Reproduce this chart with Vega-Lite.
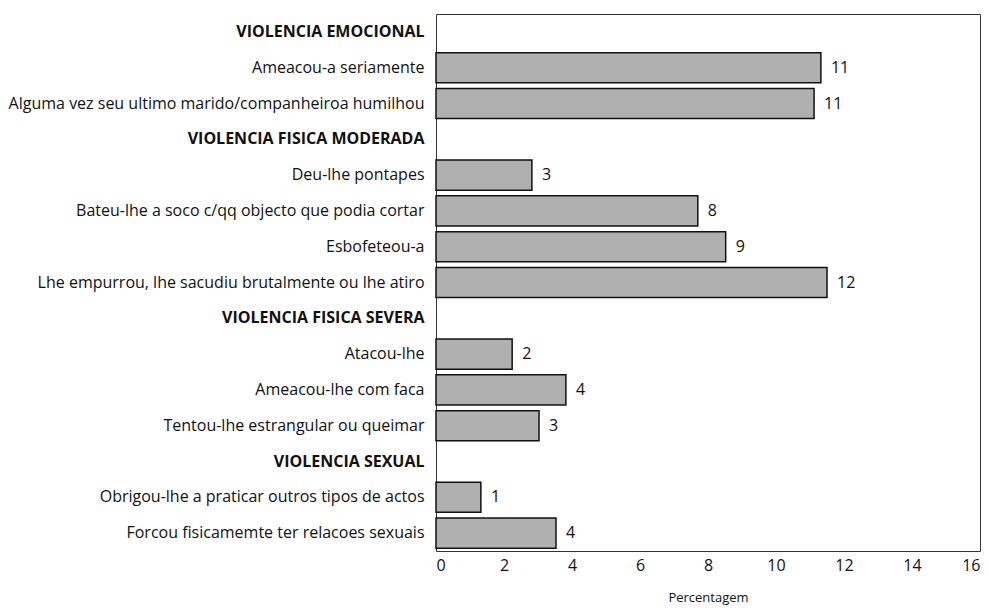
{
  "$schema": "https://vega.github.io/schema/vega-lite/v6.json",
  "autosize": {"type": "none"},
  "width": 544,
  "height": 537,
  "padding": {"left": 436, "top": 14, "right": 11, "bottom": 57},
  "background": "white",
  "config": {
    "font": "Open Sans",
    "view": {"stroke": "#333", "strokeWidth": 1}
  },
  "data": {
    "values": [
      {"item": "Ameacou-a seriamente", "value": 11.32},
      {"item": "Alguma vez seu ultimo marido/companheiroa humilhou", "value": 11.12},
      {"item": "Deu-lhe pontapes", "value": 2.82},
      {"item": "Bateu-lhe a soco c/qq objecto que podia cortar", "value": 7.7},
      {"item": "Esbofeteou-a", "value": 8.52},
      {"item": "Lhe empurrou, lhe sacudiu brutalmente ou lhe atiro", "value": 11.5},
      {"item": "Atacou-lhe", "value": 2.24},
      {"item": "Ameacou-lhe com faca", "value": 3.82},
      {"item": "Tentou-lhe estrangular ou queimar", "value": 3.03},
      {"item": "Obrigou-lhe a praticar outros tipos de actos", "value": 1.32},
      {"item": "Forcou fisicamemte ter relacoes sexuais", "value": 3.53}
    ]
  },
  "encoding": {
    "y": {
      "field": "item",
      "type": "nominal",
      "scale": {
        "domain": [
          "VIOLENCIA EMOCIONAL",
          "Ameacou-a seriamente",
          "Alguma vez seu ultimo marido/companheiroa humilhou",
          "VIOLENCIA FISICA MODERADA",
          "Deu-lhe pontapes",
          "Bateu-lhe a soco c/qq objecto que podia cortar",
          "Esbofeteou-a",
          "Lhe empurrou, lhe sacudiu brutalmente ou lhe atiro",
          "VIOLENCIA FISICA SEVERA",
          "Atacou-lhe",
          "Ameacou-lhe com faca",
          "Tentou-lhe estrangular ou queimar",
          "VIOLENCIA SEXUAL",
          "Obrigou-lhe a praticar outros tipos de actos",
          "Forcou fisicamemte ter relacoes sexuais"
        ],
        "paddingInner": 0.16,
        "paddingOuter": 0.08
      },
      "axis": {
        "title": null,
        "ticks": false,
        "domain": false,
        "labelPadding": 12,
        "labelFontSize": 16,
        "labelColor": "#111",
        "labelLimit": 500,
        "labelFontWeight": {
          "condition": {"test": "indexof(datum.label, 'VIOLENCIA') === 0", "value": "bold"},
          "value": "normal"
        }
      }
    },
    "x": {
      "field": "value",
      "type": "quantitative",
      "scale": {"domain": [0, 16], "nice": false},
      "axis": {
        "title": "Percentagem",
        "values": [0, 2, 4, 6, 8, 10, 12, 14, 16],
        "grid": false,
        "ticks": false,
        "domain": false,
        "labelFontSize": 16,
        "labelColor": "#111",
        "labelPadding": 6,
        "titleFontSize": 13,
        "titleFontWeight": "normal",
        "titleColor": "#111",
        "titlePadding": 18
      }
    }
  },
  "layer": [
    {
      "mark": {"type": "bar", "fill": "#b0b0b0", "stroke": "#111", "strokeWidth": 1.5}
    },
    {
      "mark": {"type": "text", "align": "left", "baseline": "middle", "dx": 10, "fontSize": 16, "color": "#111"},
      "encoding": {
        "text": {"field": "value", "type": "quantitative", "format": ".0f"}
      }
    }
  ]
}
